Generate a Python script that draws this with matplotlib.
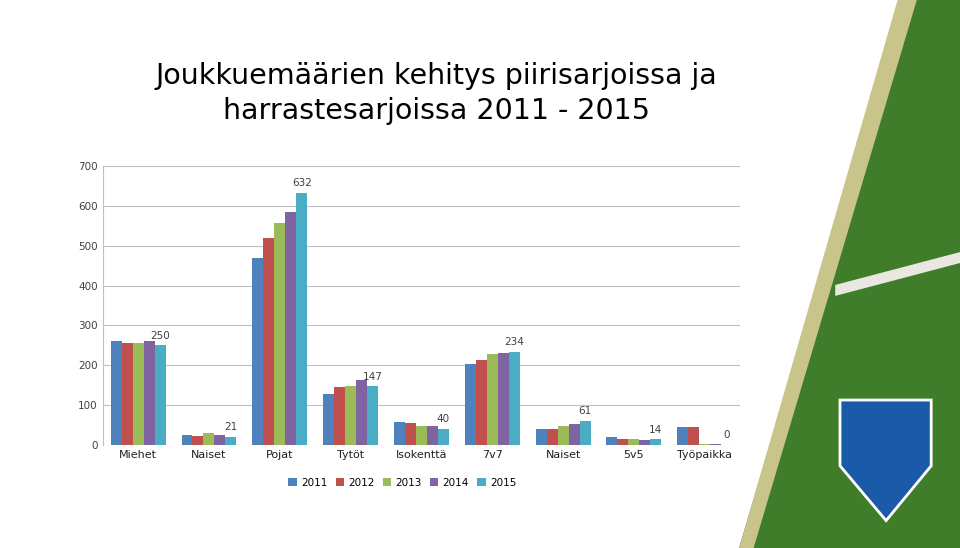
import matplotlib
matplotlib.use("Agg")
import matplotlib.pyplot as plt
import numpy as np
from matplotlib.patches import Polygon

categories = ["Miehet", "Naiset", "Pojat", "Tytöt", "Isokenttä", "7v7", "Naiset", "5v5", "Työpaikka"]
years = ["2011", "2012", "2013", "2014", "2015"]
v2011 = [260, 24, 470, 128, 57, 203, 40, 19, 46]
v2012 = [255, 23, 520, 145, 55, 213, 39, 16, 45]
v2013 = [255, 30, 558, 148, 47, 228, 47, 14, 3]
v2014 = [260, 24, 585, 163, 47, 232, 53, 13, 3]
v2015 = [250, 21, 632, 147, 40, 234, 61, 14, 0]
series = [v2011, v2012, v2013, v2014, v2015]
colors = ["#4F81BD", "#C0504D", "#9BBB59", "#8064A2", "#4BACC6"]

fig = plt.figure(figsize=(9.6, 5.48), dpi=100)
fig.patches.append(Polygon([[0.94, 1], [1, 1], [1, 0], [0.77, 0]], closed=True,
                           transform=fig.transFigure, facecolor="#3f7d2a", zorder=0))
fig.patches.append(Polygon([[0.935, 1], [0.955, 1], [0.785, 0], [0.77, 0]], closed=True,
                           transform=fig.transFigure, facecolor="#c9c58a", zorder=0))
fig.patches.append(Polygon([[0.87, 0.48], [1, 0.54], [1, 0.52], [0.87, 0.46]], closed=True,
                           transform=fig.transFigure, facecolor="#e8e8e0", zorder=0))
fig.patches.append(Polygon([[0.875, 0.27], [0.875, 0.15], [0.923, 0.05], [0.97, 0.15], [0.97, 0.27]],
                           closed=True, transform=fig.transFigure, facecolor="#1a5aa8",
                           edgecolor="white", linewidth=2, zorder=1))

ax = fig.add_axes([0.107, 0.188, 0.664, 0.509])
x = np.arange(len(categories))
w = 0.155
for i, (vals, c, y) in enumerate(zip(series, colors, years)):
    bars = ax.bar(x + (i - 2) * w, vals, w, color=c, label=y, zorder=3)
    if i == 4:
        for b, v in zip(bars, vals):
            ax.text(b.get_x() + b.get_width() / 2, v + 12, str(v),
                    ha="center", va="bottom", fontsize=7.5, color="#404040")
ax.set_ylim(0, 700)
ax.set_yticks(range(0, 701, 100))
ax.set_xlim(-0.5, len(categories) - 0.5)
ax.set_xticks(x)
ax.set_xticklabels(categories, fontsize=8)
ax.tick_params(axis="y", labelsize=7.5, length=0, colors="#404040")
ax.tick_params(axis="x", length=0, colors="#202020")
ax.yaxis.grid(True, color="#c0c0c0", linewidth=0.8, zorder=0)
for s in ["top", "right", "bottom"]:
    ax.spines[s].set_visible(False)
ax.spines["left"].set_color("#c0c0c0")
ax.set_facecolor("none")
ax.legend(loc="upper center", bbox_to_anchor=(0.47, -0.085), ncol=5, frameon=False,
          fontsize=7.5, handlelength=0.8, handleheight=0.8, columnspacing=0.8, handletextpad=0.4)

fig.text(0.455, 0.862, "Joukkuemäärien kehitys piirisarjoissa ja", ha="center", va="center", fontsize=20.5)
fig.text(0.455, 0.797, "harrastesarjoissa 2011 - 2015", ha="center", va="center", fontsize=20.5)

fig.savefig("out.png", dpi=100)
